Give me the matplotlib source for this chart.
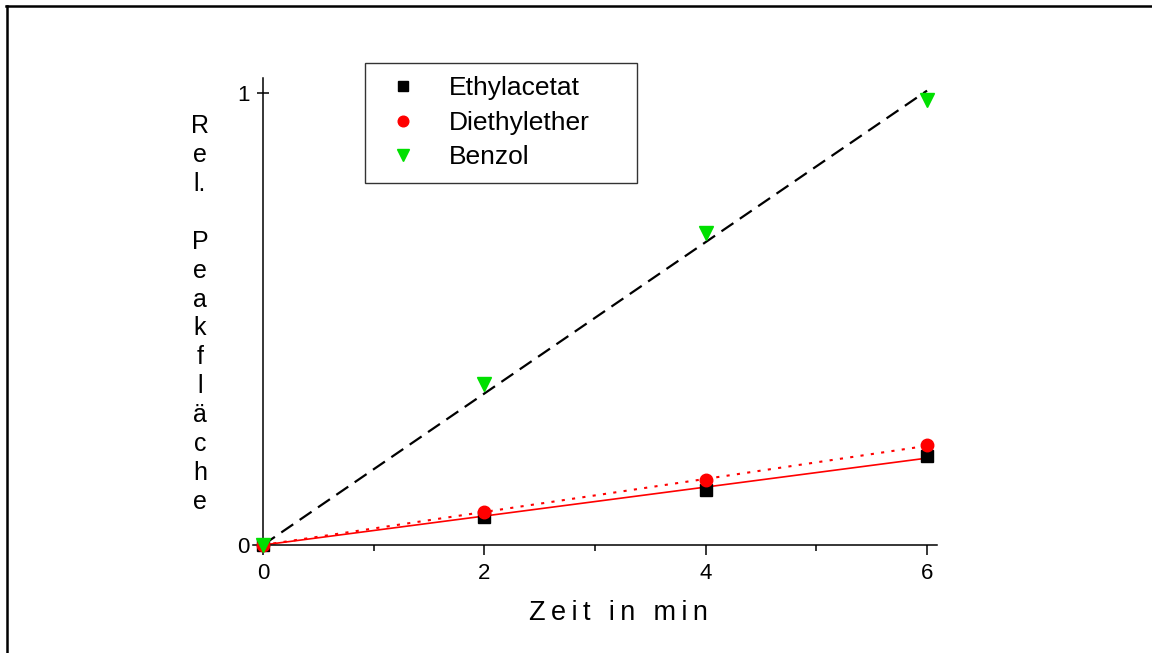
import numpy as np
import matplotlib
matplotlib.use("Agg")
import matplotlib.pyplot as plt
from matplotlib.lines import Line2D
from matplotlib.ticker import FixedLocator

plt.rcParams['font.family'] = ['Liberation Sans', 'DejaVu Sans']

# Measured relative peak areas over time
zeit = [0, 2, 4, 6]
ethylacetat = [0.0, 0.062, 0.122, 0.197]
diethylether = [0.0, 0.073, 0.144, 0.221]
benzol = [0.0, 0.356, 0.690, 0.985]

W, H = 1152, 653
fig = plt.figure(figsize=(W / 100, H / 100), dpi=100)

def fx(px):
    return px / W

def fy(py):
    return 1 - py / H

ax = fig.add_axes([fx(253), fy(545), fx(937) - fx(253), fy(78) - fy(545)])
ax.set_xlim(-0.09, 6.09)
ax.set_ylim(0, 1.0332)

# Linear fits through the origin
x = np.array(zeit, dtype=float)
xfit = np.array([0.0, 6.0])
def slope(y):
    y = np.array(y, dtype=float)
    return (x * y).sum() / (x * x).sum()

ax.plot(xfit, slope(benzol) * xfit, color='black', lw=1.6,
        dashes=(6.5, 3.5), zorder=2)
ax.plot(xfit, slope(ethylacetat) * xfit, color='#ff0000', lw=1.2,
        ls='-', zorder=2)
ax.plot(xfit, slope(diethylether) * xfit, color='#ff0000', lw=1.5,
        dashes=(1.5, 3.5), zorder=2)

ax.plot(zeit, ethylacetat, ls='none', marker='s', ms=8.5, color='black',
        mec='black', clip_on=False, zorder=3, label='Ethylacetat')
ax.plot(zeit, diethylether, ls='none', marker='o', ms=9, color='#ff0000',
        mec='#ff0000', clip_on=False, zorder=4, label='Diethylether')
ax.plot(zeit, benzol, ls='none', marker='v', ms=10, color='#00e000',
        mec='#00e000', clip_on=False, zorder=5, label='Benzol')

# Axes styling: only left spine at x=0 and bottom spine at y=0
for side in ('top', 'right'):
    ax.spines[side].set_visible(False)
ax.spines['left'].set_position(('data', 0))
ax.spines['left'].set_linewidth(1.1)
ax.spines['bottom'].set_linewidth(1.1)

ax.set_xticks([0, 2, 4, 6])
ax.set_xticklabels(['0', '2', '4', '6'])
ax.xaxis.set_minor_locator(FixedLocator([1, 3, 5]))
ax.tick_params(axis='x', which='major', direction='out', length=7, width=1.1,
               labelsize=16, pad=6)
ax.tick_params(axis='x', which='minor', direction='out', length=4, width=1.1)
ax.set_yticks([0, 1])
ax.set_yticklabels(['0', '1'])
ax.tick_params(axis='y', which='major', direction='inout', length=9, width=1.1,
               labelsize=16, pad=5)

leg = ax.legend(loc='upper left',
                bbox_to_anchor=(fx(365), fy(178), fx(637) - fx(365), fy(63) - fy(178)),
                bbox_transform=fig.transFigure, mode='expand', frameon=True,
                fancybox=False, edgecolor='black', fontsize=19,
                handlelength=1.9, handletextpad=0.78, borderpad=0.5,
                labelspacing=0.4, borderaxespad=0, markerscale=0.85)
leg.get_frame().set_linewidth(1.0)

# Axis titles
ts = '\u2009'
fig.text(fx(618), fy(613), ts.join('Zeit in min'), ha='center', va='center',
         fontsize=19.5)
ylab = '\n'.join(['R', 'e', 'l.', '', 'P', 'e', 'a', 'k', 'f', 'l', 'ä', 'c', 'h', 'e'])
fig.text(fx(200), fy(314), ylab, ha='center', va='center', fontsize=18,
         linespacing=1.26)

# Outer frame
fig.add_artist(Line2D([fx(7), fx(7)], [0, fy(5.5)], color='black', lw=1.8,
                      transform=fig.transFigure))
fig.add_artist(Line2D([fx(6.1), 1], [fy(5.5), fy(5.5)], color='black', lw=1.8,
                      transform=fig.transFigure))

fig.savefig('out.png', dpi=100)
